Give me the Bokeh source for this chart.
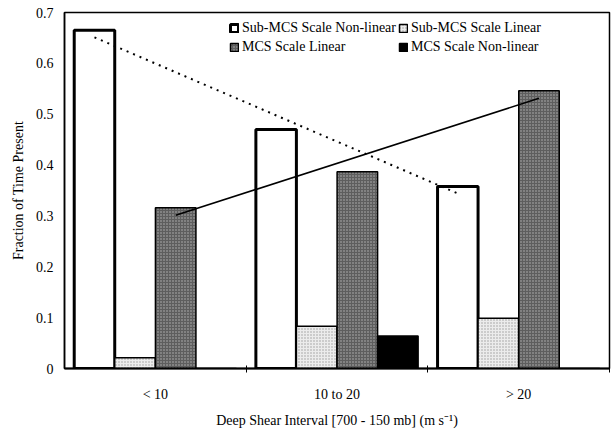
import numpy as np
from bokeh.plotting import figure
from bokeh.models import (ColumnDataSource, Range1d, FixedTicker, Legend, LegendItem)
from bokeh.embed import file_html
from bokeh.resources import INLINE

# ---- data ----
categories = ["< 10", "10 to 20", "> 20"]
series_names = ["Sub-MCS Scale Non-linear", "Sub-MCS Scale Linear",
                "MCS Scale Linear", "MCS Scale Non-linear"]
sub_nonlinear = [0.665, 0.470, 0.358]
sub_linear = [0.021, 0.083, 0.099]
mcs_linear = [0.316, 0.387, 0.546]
mcs_nonlinear = [0.0, 0.064, 0.0]
y_ticks = [0, 0.1, 0.2, 0.3, 0.4, 0.5, 0.6, 0.7]
y_tick_labels = ["0", "0.1", "0.2", "0.3", "0.4", "0.5", "0.6", "0.7"]

FONT = "Liberation Serif"

p = figure(width=612, height=430, output_backend="svg", toolbar_location=None,
           x_range=Range1d(0, 3), y_range=Range1d(0, 0.7),
           min_border_left=64, min_border_right=3, min_border_top=12,
           min_border_bottom=58)
p.grid.visible = False
p.background_fill_color = "white"
p.border_fill_color = "white"
p.outline_line_color = "black"
p.outline_line_width = 1.5

centers = np.arange(len(categories)) + 0.5
offsets = [-0.335, -0.112, 0.112, 0.335]
bw = 0.223
values = [sub_nonlinear, sub_linear, mcs_linear, mcs_nonlinear]
styles = [
    dict(fill_color="white", line_color="black", line_width=3),
    dict(fill_color="#ececec", line_color="black", line_width=1.5,
         hatch_pattern="dot", hatch_color="#9a9a9a", hatch_scale=3, hatch_weight=1),
    dict(fill_color="#5e5e5e", line_color="black", line_width=1.5,
         hatch_pattern="dot", hatch_color="#b8b8b8", hatch_scale=3, hatch_weight=1),
    dict(fill_color="black", line_color="black", line_width=1.5),
]

renderers = []
for vals, off, st in zip(values, offsets, styles):
    src = ColumnDataSource(dict(x=centers + off, top=vals))
    r = p.vbar(x="x", top="top", bottom=0, width=bw, source=src, **st)
    renderers.append(r)

# linear trend lines (Excel-style) for the two series that have them
def trend(vals, off, **kw):
    idx = np.arange(len(vals))
    slope, icpt = np.polyfit(idx, vals, 1)
    xs = [centers[0] + off, centers[-1] + off]
    ys = [icpt, icpt + slope * idx[-1]]
    p.line(xs, ys, line_color="black", **kw)

trend(sub_nonlinear, offsets[0], line_width=2, line_dash="2 5")
trend(mcs_linear, offsets[2], line_width=1.6)

# axes
p.xaxis.ticker = FixedTicker(ticks=list(centers), minor_ticks=[1, 2, 3])
p.xaxis.major_label_overrides = {float(c): lab for c, lab in zip(centers, categories)}
p.xaxis.minor_tick_line_color = "black"
p.xaxis.minor_tick_in = 3
p.xaxis.minor_tick_out = 4
p.xaxis.axis_line_width = 2
p.xaxis.axis_label = "Deep Shear Interval [700 - 150 mb] (m s\u207b\u00b9)"
p.xaxis.major_label_standoff = 12
p.xaxis.axis_label_standoff = 8

p.yaxis.ticker = FixedTicker(ticks=y_ticks, minor_ticks=[])
p.yaxis.major_label_overrides = {float(t): lab for t, lab in zip(y_ticks, y_tick_labels)}
p.yaxis.major_tick_in = 0
p.yaxis.major_tick_out = 5
p.yaxis.axis_line_width = 1.5
p.yaxis.axis_label = "Fraction of Time Present"
p.yaxis.major_label_standoff = 6
p.yaxis.axis_label_standoff = 7

for ax in (p.xaxis, p.yaxis):
    ax.axis_line_color = "black"
    ax.major_tick_line_color = "black" if ax is p.yaxis else None
    ax.major_label_text_font = FONT
    ax.major_label_text_font_size = "14px"
    ax.major_label_text_color = "black"
    ax.axis_label_text_font = FONT
    ax.axis_label_text_font_size = "14px"
    ax.axis_label_text_font_style = "normal"
    ax.axis_label_text_color = "black"

legend = Legend(
    items=[LegendItem(label=n, renderers=[r]) for n, r in zip(series_names, renderers)],
    location=(165, 313), orientation="horizontal", ncols=2,
    label_text_font=FONT, label_text_font_size="14px", label_text_color="black",
    glyph_width=10, glyph_height=10, label_standoff=3, spacing=2,
    padding=0, margin=0, border_line_color=None, background_fill_alpha=0,
    label_height=17,
)
p.add_layout(legend)

open("out.html", "w").write(file_html(p, INLINE))
